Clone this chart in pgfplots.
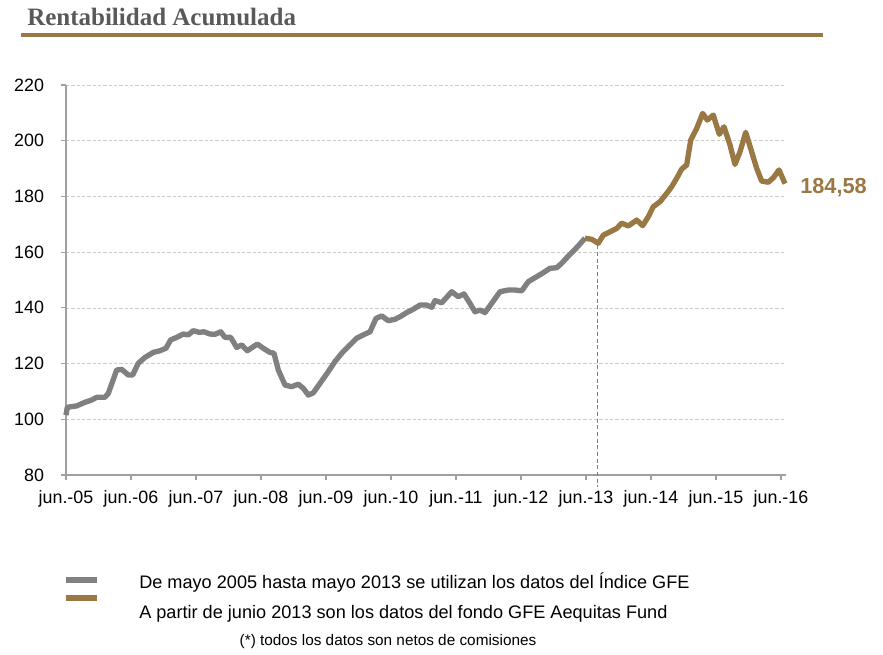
\documentclass[border=0pt]{standalone}
\usepackage{fontspec}
\setmainfont{Liberation Sans}
\newfontfamily\titlefont{Liberation Serif}
\usepackage{pgfplots}
\pgfplotsset{compat=1.18}

\definecolor{indexgray}{HTML}{808080}
\definecolor{fundbrown}{HTML}{9A7843}
\definecolor{titlegray}{HTML}{595959}
\definecolor{axisgray}{HTML}{A0A0A0}

% x: years since jun.-05, y: accumulated value
\pgfplotstableread{
x y
0.000 101.5
0.020 104.3
0.165 104.8
0.292 106.1
0.395 106.9
0.472 107.9
0.600 107.9
0.651 109.3
0.780 117.7
0.857 117.9
0.958 115.9
1.026 115.9
1.112 120.1
1.215 122.2
1.343 124.0
1.446 124.6
1.538 125.5
1.611 128.5
1.703 129.4
1.805 130.6
1.882 130.3
1.958 131.8
2.051 131.2
2.123 131.4
2.215 130.6
2.292 130.5
2.380 131.4
2.446 129.4
2.534 129.4
2.626 125.8
2.703 126.7
2.789 124.6
2.943 127.0
3.035 125.5
3.138 124.0
3.200 123.7
3.266 117.7
3.369 112.3
3.472 111.7
3.574 112.6
3.651 111.1
3.728 108.7
3.805 109.5
3.908 112.9
4.035 117.1
4.138 120.7
4.242 123.7
4.369 126.7
4.472 129.1
4.574 130.3
4.677 131.4
4.769 136.2
4.857 137.1
4.958 135.4
5.062 135.9
5.138 136.8
5.242 138.3
5.343 139.5
5.446 141.0
5.549 141.0
5.626 140.2
5.677 142.6
5.780 141.8
5.857 143.8
5.934 145.8
6.035 144.0
6.123 145.0
6.215 141.6
6.292 138.6
6.369 139.2
6.446 138.3
6.549 141.6
6.677 145.8
6.805 146.4
6.908 146.4
7.011 146.1
7.112 149.4
7.242 151.2
7.343 152.6
7.446 154.2
7.549 154.4
7.626 156.0
7.728 158.6
7.831 161.0
7.918 163.2
7.985 165.0
}\indexdata

\pgfplotstableread{
x y
7.985 165.0
8.088 164.6
8.189 163.2
8.266 166.1
8.369 167.3
8.472 168.5
8.549 170.4
8.651 169.4
8.780 171.5
8.872 169.5
8.958 172.7
9.035 176.3
9.138 178.1
9.242 181.1
9.318 183.5
9.395 186.5
9.472 189.8
9.549 191.3
9.611 200.2
9.703 204.4
9.795 209.8
9.866 207.4
9.958 209.2
10.051 202.3
10.123 205.0
10.215 198.5
10.292 191.5
10.369 196.0
10.457 203.0
10.549 196.0
10.626 190.1
10.703 185.5
10.805 185.1
10.882 186.7
10.969 189.5
11.062 184.58
}\funddata

\begin{document}
\begin{tikzpicture}
\begin{scope}[x=0.75pt,y=0.75pt]
\path[use as bounding box] (0,0) rectangle (883,655);
% title and rule
\node[anchor=base west, inner sep=0, text=titlegray,
      font=\titlefont\bfseries\fontsize{18.75}{22}\selectfont]
  at (27,629) {Rentabilidad Acumulada};
\draw[fundbrown, line width=2.6pt] (21,620) -- (823,620);
\end{scope}

\begin{axis}[
  at={(49.5pt,135pt)}, anchor=south west,
  scale only axis, width=540pt, height=292.5pt,
  xmin=0, xmax=11.077, ymin=80, ymax=220,
  axis x line*=bottom, axis y line*=left,
  axis line style={draw=axisgray, line width=0.8pt},
  xtick={0,1,...,11},
  xticklabels={jun.-05,jun.-06,jun.-07,jun.-08,jun.-09,jun.-10,jun.-11,jun.-12,jun.-13,jun.-14,jun.-15,jun.-16},
  ytick={80,100,...,220},
  tick align=outside, major tick length=4pt,
  tick style={draw=axisgray, line width=0.8pt},
  ymajorgrids, grid style={dash pattern=on 2.5pt off 1.5pt, draw=gray!40, line width=0.5pt},
  /pgf/number format/assume math mode=true,
  ticklabel style={font=\fontsize{13.4}{15}\selectfont, text=black},
  yticklabel style={xshift=-9pt},
  xticklabel style={yshift=-4pt},
  clip=false,
]
\addplot[indexgray, line width=4pt, line join=round] table[x=x,y=y] {\indexdata};
\addplot[fundbrown, line width=4pt, line join=round] table[x=x,y=y] {\funddata};
\draw[fundbrown, dash pattern=on 3pt off 2pt, line width=1.1pt] (axis cs:8.18,162.5) -- (axis cs:8.18,75.7);
\end{axis}

\begin{scope}[x=0.75pt,y=0.75pt]
\node[anchor=west, inner sep=0, text=fundbrown,
      font=\bfseries\fontsize{16.3}{18}\selectfont] at (800,467) {184,58};
% legend
\draw[indexgray, line width=4pt] (66,75) -- (97,75);
\draw[fundbrown, line width=4pt] (66,57) -- (97,57);
\node[anchor=west, inner sep=0, font=\fontsize{13.6}{15}\selectfont] at (139,72) {De mayo 2005 hasta mayo 2013 se utilizan los datos del Índice GFE};
\node[anchor=west, inner sep=0, font=\fontsize{13.6}{15}\selectfont] at (139,41) {A partir de junio 2013 son los datos del fondo GFE Aequitas Fund};
\node[anchor=center, inner sep=0, font=\fontsize{11.5}{13}\selectfont] at (388,13) {(*) todos los datos son netos de comisiones};
\end{scope}
\end{tikzpicture}
\end{document}
